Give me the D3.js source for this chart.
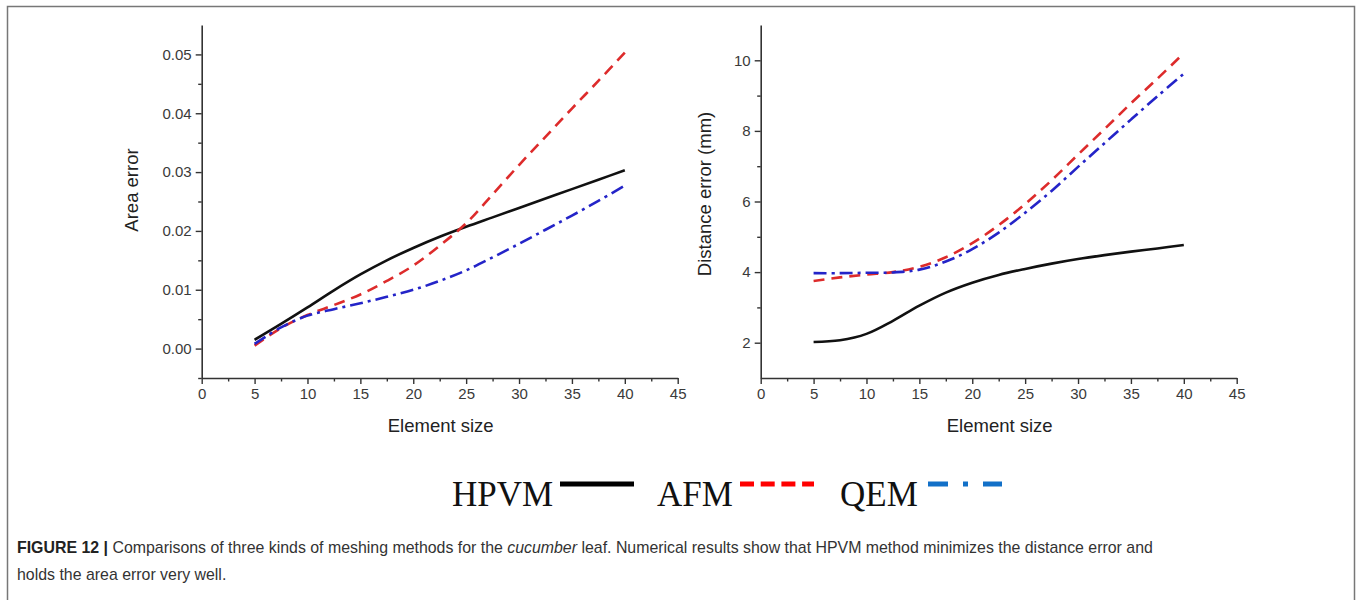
<!DOCTYPE html>
<html>
<head>
<meta charset="utf-8">
<script src="https://cdn.jsdelivr.net/npm/d3@7"></script>
<style>
  body { margin: 0; background: #fff; }
</style>
</head>
<body>
<svg id="fig"></svg>
<script>
const W = 1357;
const H = 600;
const SANS = "'Liberation Sans', Arial, sans-serif";
const SERIF = "'Liberation Serif', 'Times New Roman', serif";

// element sizes sampled along the curves
const sizes = [5, 7.5, 10, 12.5, 15, 17.5, 20, 22.5, 25, 27.5, 30, 32.5, 35, 37.5, 40];

// area error
const areaHPVM = [0.0015, 0.0042, 0.0070, 0.0099, 0.0126, 0.0150, 0.0171, 0.0190, 0.0207, 0.0223, 0.0239, 0.0255, 0.0271, 0.0287, 0.0303];
const areaAFM  = [0.0005, 0.0035, 0.0057, 0.0074, 0.0092, 0.0115, 0.0141, 0.0175, 0.0213, 0.0262, 0.0312, 0.0360, 0.0408, 0.0455, 0.0503];
const areaQEM  = [0.0008, 0.0036, 0.0056, 0.0067, 0.0077, 0.0088, 0.0100, 0.0115, 0.0133, 0.0155, 0.0178, 0.0202, 0.0226, 0.0251, 0.0277];

// distance error (mm)
const distHPVM = [2.02, 2.07, 2.25, 2.62, 3.05, 3.42, 3.70, 3.92, 4.09, 4.24, 4.37, 4.48, 4.58, 4.67, 4.77];
const distAFM  = [3.75, 3.85, 3.93, 4.00, 4.15, 4.42, 4.82, 5.33, 5.93, 6.60, 7.33, 8.05, 8.78, 9.48, 10.2];
const distQEM  = [3.97, 3.97, 3.98, 3.99, 4.07, 4.30, 4.65, 5.12, 5.68, 6.30, 6.98, 7.65, 8.32, 8.98, 9.62];

const xTicks = [0, 5, 10, 15, 20, 25, 30, 35, 40, 45];
const areaTicks = [0.00, 0.01, 0.02, 0.03, 0.04, 0.05];
const distTicks = [2, 4, 6, 8, 10];

const methods = ["HPVM", "AFM", "QEM"];
const caption1 = "Comparisons of three kinds of meshing methods for the ";
const caption2 = " leaf. Numerical results show that HPVM method minimizes the distance error and";
const caption3 = "holds the area error very well.";

const styles = {
  HPVM: { stroke: "#111", dash: null },
  AFM:  { stroke: "#dd2b2b", dash: "11,7" },
  QEM:  { stroke: "#2424c8", dash: "13,5,3,5" }
};

const svg = d3.select("#fig")
  .attr("width", W)
  .attr("height", H)
  .attr("viewBox", [0, 0, W, H]);

// frame around the figure
svg.append("path")
  .attr("d", "M7.5,610 V6.5 H1354.5 V610")
  .attr("fill", "none")
  .attr("stroke", "#777")
  .attr("stroke-width", 1.5);

function drawPanel(opts) {
  const x = d3.scaleLinear().domain([0, 45]).range([opts.left, opts.right]);
  const y = d3.scaleLinear().domain(opts.yDomain).range([378, 25]);
  const g = svg.append("g");

  const xMinor = d3.range(2.5, 45, 5);

  // minor ticks
  g.append("g")
    .attr("transform", `translate(0,378)`)
    .call(d3.axisBottom(x).tickValues(xMinor).tickSize(3.5).tickFormat(""))
    .call(a => a.select(".domain").remove());
  g.append("g")
    .attr("transform", `translate(${opts.left},0)`)
    .call(d3.axisLeft(y).tickValues(opts.minor).tickSize(3.5).tickFormat(""))
    .call(a => a.select(".domain").remove());

  // major axes
  g.append("g")
    .attr("transform", `translate(0,378)`)
    .call(d3.axisBottom(x).tickValues(xTicks).tickSize(6).tickSizeOuter(0).tickPadding(4));
  g.append("g")
    .attr("transform", `translate(${opts.left},0)`)
    .call(d3.axisLeft(y).tickValues(opts.ticks).tickSize(6).tickSizeOuter(0).tickPadding(4)
      .tickFormat(opts.fmt));

  g.selectAll(".domain").attr("stroke", "#333").attr("stroke-width", 1.6);
  g.selectAll(".tick line").attr("stroke", "#333").attr("stroke-width", 1.4);
  g.selectAll(".tick text")
    .attr("fill", "#3a3a3a")
    .style("font-size", "15px")
    .style("font-family", SANS);

  g.append("text")
    .attr("x", (x(0) + x(45)) / 2 + 1)
    .attr("y", 432)
    .attr("text-anchor", "middle")
    .style("font-size", "18.5px")
    .style("font-family", SANS)
    .attr("fill", "#222")
    .text("Element size");

  g.append("text")
    .attr("transform", `translate(${opts.titleX},${opts.titleY}) rotate(-90)`)
    .attr("text-anchor", "middle")
    .style("font-size", "18.5px")
    .style("font-family", SANS)
    .attr("fill", "#222")
    .text(opts.title);

  const line = d3.line()
    .x((d, i) => x(sizes[i]))
    .y(d => y(d))
    .curve(d3.curveCatmullRom.alpha(0.5));

  opts.series.forEach((vals, k) => {
    const st = styles[methods[k]];
    g.append("path")
      .datum(vals)
      .attr("d", line)
      .attr("fill", "none")
      .attr("stroke", st.stroke)
      .attr("stroke-width", 2.6)
      .attr("stroke-dasharray", st.dash);
  });
}

drawPanel({
  left: 201.7, right: 677.7,
  yDomain: [-0.005, 0.055],
  ticks: areaTicks,
  minor: d3.range(-0.005, 0.055, 0.01),
  fmt: d3.format(".2f"),
  title: "Area error",
  titleX: 138, titleY: 190,
  series: [areaHPVM, areaAFM, areaQEM]
});

drawPanel({
  left: 760.7, right: 1236.7,
  yDomain: [1, 11],
  ticks: distTicks,
  minor: [3, 5, 7, 9],
  fmt: d3.format("d"),
  title: "Distance error (mm)",
  titleX: 711, titleY: 194,
  series: [distHPVM, distAFM, distQEM]
});

// legend
const legend = [
  { name: "HPVM", tx: 452, lx: 560, stroke: "#000", dash: null },
  { name: "AFM", tx: 657, lx: 740, stroke: "#ff0000", dash: "14,6.7" },
  { name: "QEM", tx: 840, lx: 928, stroke: "#1270c8", dash: "20,15,5,15" }
];
const lg = svg.append("g");
lg.selectAll("text")
  .data(legend)
  .enter()
  .append("text")
  .attr("x", d => d.tx)
  .attr("y", 506)
  .style("font-family", SERIF)
  .style("font-size", "35px")
  .attr("fill", "#111")
  .text(d => d.name);
lg.selectAll("line")
  .data(legend)
  .enter()
  .append("line")
  .attr("x1", d => d.lx)
  .attr("x2", d => d.lx + 74)
  .attr("y1", 484)
  .attr("y2", 484)
  .attr("stroke", d => d.stroke)
  .attr("stroke-width", 5)
  .attr("stroke-dasharray", d => d.dash);

// caption
const cap = svg.append("text")
  .attr("x", 17)
  .attr("y", 553)
  .style("font-family", SANS)
  .style("font-size", "15.9px")
  .attr("fill", "#333");
cap.append("tspan").attr("font-weight", "bold").attr("fill", "#222").text("FIGURE 12 | ");
cap.append("tspan").text(caption1);
cap.append("tspan").attr("font-style", "italic").text("cucumber");
cap.append("tspan").text(caption2);

svg.append("text")
  .attr("x", 17)
  .attr("y", 580)
  .style("font-family", SANS)
  .style("font-size", "15.9px")
  .attr("fill", "#333")
  .text(caption3);
</script>
</body>
</html>
